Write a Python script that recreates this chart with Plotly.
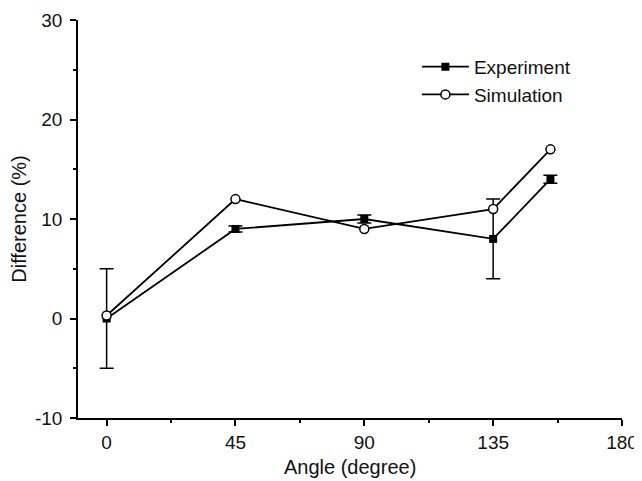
import plotly.graph_objects as go

angles = [0, 45, 90, 135, 155]
experiment = [0, 9, 10, 8, 14]
experiment_err = [5, 0.3, 0.4, 4, 0.4]
simulation = [0.3, 12, 9, 11, 17]

x_ticks = [0, 45, 90, 135, 180]
y_ticks = [-10, 0, 10, 20, 30]

fig = go.Figure()
fig.add_trace(go.Scatter(
    x=angles, y=experiment, name="Experiment", mode="lines+markers",
    line=dict(color="black", width=1.8),
    marker=dict(symbol="square", size=8, color="black"),
    error_y=dict(type="data", array=experiment_err, visible=True,
                 color="black", thickness=1.5, width=7),
))
fig.add_trace(go.Scatter(
    x=angles, y=simulation, name="Simulation", mode="lines+markers",
    line=dict(color="black", width=1.8),
    marker=dict(symbol="circle", size=9, color="white",
                line=dict(color="black", width=1.5)),
))

# page has an 8px body margin; figure offset accounted for in margins
axis_font = dict(family="Liberation Sans, Arial, sans-serif", size=19, color="#111")
fig.update_layout(
    width=634, height=473,
    margin=dict(l=70, r=20, t=12, b=63),
    paper_bgcolor="white", plot_bgcolor="white",
    font=axis_font,
    showlegend=True,
    legend=dict(x=0.623, y=0.93, xanchor="left", yanchor="top",
                bgcolor="rgba(0,0,0,0)", font=dict(size=19),
                tracegroupgap=0, itemwidth=47),
    xaxis=dict(
        range=[-10, 180], tickvals=x_ticks, ticktext=[str(v) for v in x_ticks],
        showgrid=False, zeroline=False, showline=True, linecolor="black", linewidth=1.5,
        ticks="outside", ticklen=6, tickwidth=1.5, tickcolor="black",
        minor=dict(tickvals=[22.5, 67.5, 112.5, 157.5], ticks="outside", ticklen=3,
                   tickwidth=1.5, tickcolor="black", showgrid=False),
        tickfont=dict(size=19), automargin=False, ticklabeloverflow="allow",
    ),
    yaxis=dict(
        range=[-10, 30], tickvals=y_ticks, ticktext=[str(v) for v in y_ticks],
        showgrid=False, zeroline=False, showline=True, linecolor="black", linewidth=1.5,
        ticks="outside", ticklen=6, tickwidth=1.5, tickcolor="black",
        minor=dict(tickvals=[-5, 5, 15, 25], ticks="outside", ticklen=3,
                   tickwidth=1.5, tickcolor="black", showgrid=False),
        title=dict(text="Difference (%)", font=dict(size=20)),
        tickfont=dict(size=19), automargin=False, ticklabelstandoff=4,
        ticklabeloverflow="allow",
    ),
    annotations=[dict(
        text="Angle (degree)", xref="paper", yref="paper", x=0.5, y=0,
        xanchor="center", yanchor="middle", yshift=-49, showarrow=False,
        font=dict(size=20),
    )],
)

fig.write_html("out.html")
